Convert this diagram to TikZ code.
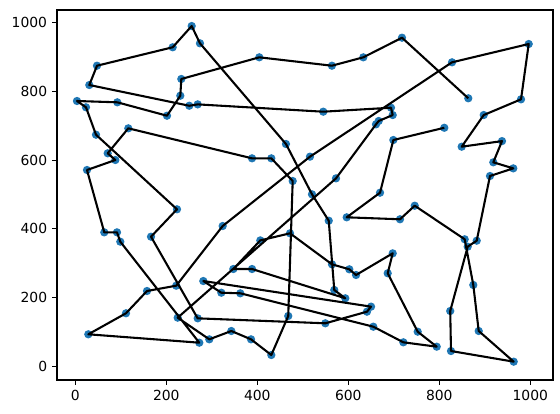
\documentclass[tikz,border=0pt]{standalone}
\usepackage{fontspec}
\setmainfont{DejaVu Sans}
\definecolor{tabblue}{HTML}{1F77B4}
\begin{document}
\begin{tikzpicture}[x=1pt,y=1pt,
  dot/.style={circle,fill=tabblue,draw=none,inner sep=0pt,minimum size=8.3pt},
  tour/.style={black,line width=2.08pt,line join=round},
  spine/.style={black,line width=1.1pt},
  tick/.style={black,line width=1.1pt},
  lab/.style={font=\fontsize{13.9}{16}\selectfont,inner sep=0pt}]
\useasboundingbox (0,0) rectangle (560,413);
\begin{scope}[shift={(75.3,46.5)},x=0.455pt,y=0.344pt]
% points
\foreach \n/\px/\py in {
A1/255.8/989.8, A2/214/928, A3/274/939.5, A4/47.7/874.4, A5/30.8/818.3,
A6/233/835.8, A7/230.8/787.2, A8/250.5/758, A9/269/762, A10/201.5/729,
A11/3.7/771.8, A12/23.5/753.5, A13/92.3/768, A14/404.4/898.8, A15/564/874.4,
A16/633/898.8, A17/718/955.8, A18/828/884.3, A19/996.5/937.5, A20/979.6/776.7,
A21/863.7/779.7, A22/897.6/731, A23/811/694, A24/545/740.7, A25/693.8/752.3,
A26/697.6/731, A27/666.8/713.7, A28/660.9/704,
B1/45.5/673.8, B2/116.5/692.4, B3/71.2/619.8, B4/88/600.3, B5/25.7/571.2,
B6/463/646.8, B7/388.4/605.2, B8/430.8/605.2, B9/477.8/539.2, B10/515.8/610,
B11/520.2/500.6, B12/573/547, B13/557/423.8, B14/596.5/433.7, B15/669.7/505.2,
B16/713.6/428, B17/746/467.4, B18/699/658.4, B19/849.2/639, B20/937.8/655.2,
B21/918.7/593.6, B22/962.6/576, B23/911.4/553.8, B24/223.5/457,
C1/855.8/369.8, C2/882.2/365.7, C3/862.4/348.3, C4/874.7/237, C5/824/161.3,
C6/886.6/103.2, C7/825.7/45, C8/963.5/14, C9/794.3/57.6, C10/752.5/101.2,
C11/63.7/390, C12/91.6/390, C13/98.9/362.8, C14/166.4/377.3,
D1/721/70.3,
E1/221.8/234.9, E2/157.6/219.5, E3/111.4/154.7, E4/28.6/93.6, E5/225/141.9,
E6/281.3/248.5, E7/347.3/283.4, E8/388.4/283.4, E9/320.9/214.5, E10/362.6/212.8,
E11/269/140, E12/468/146.8, E13/272.5/69.2, E14/294.5/79, E15/342.9/103.2,
E16/386.2/79, E17/430.8/33.4,
F1/564.2/297, F2/602.2/282.6, F3/617/266, F4/697.6/329, F5/686.6/271,
F6/569.2/222.4, F7/593.4/198.3, F8/650/174, F9/641/159.3, F10/549.5/125.6,
F11/655/115.7,
G1/406.6/366.6, G2/471.9/387.2, G3/323.9/408.4}
  \node[dot] (\n) at (\px,\py) {};
% tour
\draw[tour] (A21.center)
 \foreach \n in {A17,A16,A15,A14,A6,A7,A10,A13,A11,A12,B1,B24,C14,E11,F10,F9,F8,E6,E9,E10,F11,D1,C9,C10,F5,F4,F3,F2,F1,G2,G1,E7,E8,F7,F6,B13,B11,B6,A3,A1,A2,A4,A5,A8,A9,A24,A25,A26,A27,A28,B12,E5,E14,E15,E16,E17,E12,B9,B8,B7,B2,B3,B4,B5,C11,C12,C13,E13,E4,E3,E2,E1,G3,B10,A18,A19,A20,A22,B19,B20,B21,B22,B23,C2,C3,C5,C7,C8,C6,C4,C1,B17,B16,B14,B15,B18,A23} { -- (\n.center) };
\end{scope}
% axes
\coordinate (bl) at (57,33);
\coordinate (tr) at (553,403);
\draw[spine] (bl) rectangle (tr);
\foreach \v in {0,200,400,600,800,1000}{
  \pgfmathsetmacro{\xx}{75.3+0.455*\v}
  \draw[tick] (\xx,33) -- (\xx,28.1);
  \node[lab,anchor=north] at (\xx,23.3) {\v};
  \pgfmathsetmacro{\yy}{46.5+0.344*\v}
  \draw[tick] (57,\yy) -- (52.1,\yy);
  \node[lab,anchor=east] at (47.3,\yy) {\v};
}
\end{tikzpicture}
\end{document}
